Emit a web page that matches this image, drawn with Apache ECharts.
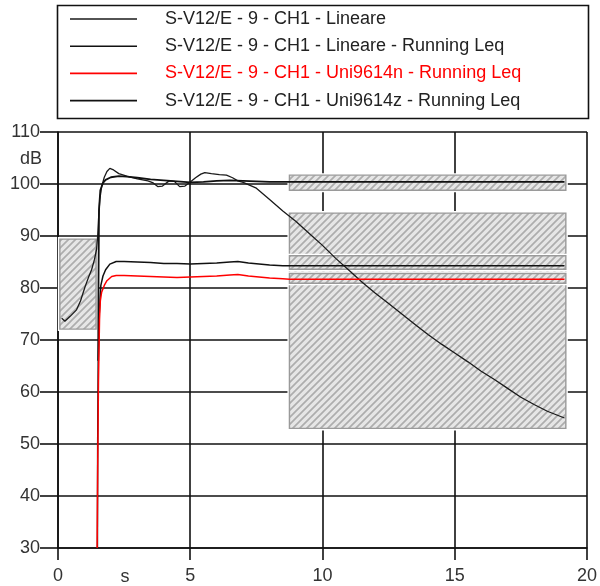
<!DOCTYPE html>
<html>
<head>
<meta charset="utf-8">
<script src="https://cdn.jsdelivr.net/npm/echarts@6/dist/echarts.min.js"></script>
<style>
  html, body { margin: 0; padding: 0; background: #ffffff; }
  #chart { width: 600px; height: 586px; }
</style>
</head>
<body>
<div id="chart"></div>
<script>
// Series names as shown in the legend
const seriesNames = [
  'S-V12/E - 9 - CH1 - Lineare',
  'S-V12/E - 9 - CH1 - Lineare - Running Leq',
  'S-V12/E - 9 - CH1 - Uni9614n - Running Leq',
  'S-V12/E - 9 - CH1 - Uni9614z - Running Leq'
];

// Axis ticks
const xTicks = [0, 5, 10, 15, 20];
const yTicks = [30, 40, 50, 60, 70, 80, 90, 100, 110];

// Lineare (fast level), time in s, level in dB
const linT = [0.14, 0.26, 0.45, 0.7, 0.85, 1.02, 1.15, 1.27, 1.38, 1.46, 1.5, 1.53, 1.58, 1.65, 1.75, 1.85, 1.96, 2.1, 2.3, 2.6,
  3.0, 3.4, 3.6, 3.77, 3.95, 4.2, 4.4, 4.6, 4.8, 5.0, 5.2, 5.4, 5.55, 5.8, 6.1, 6.37, 6.6, 6.8, 7.0, 7.5,
  8.0, 8.5, 9.0, 9.5, 10.0, 10.5, 11.0, 11.5, 12.0, 12.5, 13.0, 13.5, 14.0, 14.5, 15.0, 15.5, 16.0, 16.5,
  17.0, 17.5, 18.0, 18.5, 19.15];
const linV = [74.2, 73.6, 74.5, 75.8, 77.5, 80.2, 82.0, 83.5, 85.5, 87.5, 90.0, 93.0, 97.0, 99.5, 101.3, 102.4, 103.0, 102.7, 102.0, 101.5,
  101.0, 100.6, 100.2, 99.5, 99.6, 100.6, 100.5, 99.5, 99.6, 100.4, 101.2, 101.9, 102.2, 102.0, 101.8, 101.7, 101.2, 100.6, 100.3, 99.2,
  97.0, 94.8, 92.8, 90.5, 88.2, 85.7, 83.4, 81.1, 79.0, 77.0, 75.0, 73.0, 71.0, 69.2, 67.5, 65.8, 64.0, 62.4,
  60.7, 59.0, 57.6, 56.3, 55.0];

// Lineare - Running Leq
const linLeqT = [1.52, 1.53, 1.55, 1.6, 1.7, 1.8, 2.0, 2.3, 2.6, 3.0, 3.5, 4.0, 4.5, 5.0, 5.5, 6.0, 6.5, 7.0, 7.5, 8.0, 8.75, 19.15];
const linLeqV = [66, 80, 95, 98.8, 100.2, 100.8, 101.3, 101.5, 101.4, 101.2, 100.9, 100.7, 100.5, 100.3, 100.4, 100.6, 100.7, 100.6, 100.5, 100.4, 100.4, 100.4];

// Uni9614n - Running Leq
const uniNT = [1.48, 1.5, 1.53, 1.57, 1.6, 1.65, 1.75, 1.85, 2.03, 2.2, 2.5, 3.0, 3.5, 4.0, 4.5, 5.0, 5.5, 6.0, 6.5, 6.8, 7.2, 7.6, 8.0, 8.5, 8.75, 19.15];
const uniNV = [30, 45, 62, 74, 77.5, 79.2, 80.5, 81.4, 82.2, 82.4, 82.4, 82.3, 82.2, 82.1, 82.0, 82.1, 82.2, 82.3, 82.5, 82.6, 82.3, 82.1, 81.9, 81.8, 81.7, 81.7];

// Uni9614z - Running Leq
const uniZT = [1.49, 1.5, 1.52, 1.56, 1.62, 1.7, 1.8, 1.96, 2.2, 2.5, 3.0, 3.5, 4.0, 4.5, 5.0, 5.5, 6.0, 6.5, 6.8, 7.2, 7.6, 8.0, 8.5, 8.75, 19.15];
const uniZV = [30, 50, 66, 75, 80.5, 82.3, 83.5, 84.6, 85.1, 85.1, 85.0, 84.9, 84.7, 84.7, 84.6, 84.7, 84.8, 85.0, 85.1, 84.8, 84.6, 84.4, 84.3, 84.3, 84.3];

// Tolerance boxes: [tStart, tEnd, dBLow, dBHigh]
const toleranceBoxes = [
  [0.07, 1.44, 72.1, 89.4],
  [8.75, 19.2, 98.8, 101.7],
  [8.75, 19.2, 53.0, 94.4],
  [8.75, 19.2, 83.6, 86.2],
  [8.75, 19.2, 80.9, 82.8]
];

const pairs = (t, v) => t.map((x, i) => [x, v[i]]);

// Diagonal hatch tile for the tolerance boxes
function makeHatch() {
  const c = document.createElement('canvas');
  c.width = 7; c.height = 7;
  const g = c.getContext('2d');
  g.fillStyle = '#e6e6e6';
  g.fillRect(0, 0, 7, 7);
  g.strokeStyle = '#adadad';
  g.lineWidth = 1.7;
  g.beginPath();
  g.moveTo(-1, 8); g.lineTo(8, -1);
  g.moveTo(-4, 4); g.lineTo(4, -4);
  g.moveTo(3, 11); g.lineTo(11, 3);
  g.stroke();
  return c;
}
const hatch = { image: makeHatch(), repeat: 'repeat' };

const FONT = "'Liberation Sans', Arial, sans-serif";
const LEGEND_ICON = 'path://M0,0L67,0L67,1.6L0,1.6Z';
const chart = echarts.init(document.getElementById('chart'), null, { renderer: 'canvas' });

const lineSeries = (name, data, color, width, z) => ({
  name, type: 'line', data, symbol: 'none', showSymbol: false, smooth: false, z,
  lineStyle: { color, width }, itemStyle: { color }, emphasis: { disabled: true }
});

chart.setOption({
  animation: false,
  backgroundColor: '#ffffff',
  grid: { left: 58, right: 12, top: 132, bottom: 38 },
  legend: {
    data: [
      { name: seriesNames[0], icon: LEGEND_ICON, textStyle: { color: '#222' } },
      { name: seriesNames[1], icon: LEGEND_ICON, textStyle: { color: '#222' } },
      { name: seriesNames[2], icon: LEGEND_ICON, textStyle: { color: '#ff0000' } },
      { name: seriesNames[3], icon: LEGEND_ICON, textStyle: { color: '#222' } }
    ],
    orient: 'vertical',
    left: 70, top: 10, padding: 0,
    itemWidth: 67, itemHeight: 14, itemGap: 9.2,
    selectedMode: false,
    textStyle: { fontFamily: FONT, fontSize: 18, padding: [0, 0, 0, 23] }
  },
  graphic: [
    { type: 'rect', shape: { x: 57.5, y: 5.5, width: 531, height: 113 },
      style: { fill: 'none', stroke: '#111', lineWidth: 1.6 }, z: 10 },
    { type: 'text', x: 42, y: 159, style: { text: 'dB', font: '18px ' + FONT, fill: '#333', textAlign: 'right', textVerticalAlign: 'middle' } },
    { type: 'text', x: 125, y: 577, style: { text: 's', font: '18px ' + FONT, fill: '#333', textAlign: 'center', textVerticalAlign: 'middle' } }
  ],
  xAxis: {
    type: 'value', min: 0, max: 20, interval: 5,
    axisLine: { show: true, lineStyle: { color: '#111', width: 1.6 } },
    axisTick: { show: true, length: 12, lineStyle: { color: '#111', width: 1.6 } },
    axisLabel: { fontFamily: FONT, fontSize: 18, color: '#333', margin: 19,
      formatter: v => xTicks.includes(v) ? String(v) : '' },
    splitLine: { show: true, lineStyle: { color: '#111', width: 1.6 } }
  },
  yAxis: {
    type: 'value', min: 30, max: 110, interval: 10,
    axisLine: { show: true, lineStyle: { color: '#111', width: 1.6 } },
    axisTick: { show: true, length: 18, lineStyle: { color: '#111', width: 1.6 } },
    axisLabel: { fontFamily: FONT, fontSize: 18, color: '#333', margin: 18,
      formatter: v => yTicks.includes(v) ? String(v) : '' },
    splitLine: { show: true, lineStyle: { color: '#111', width: 1.6 } }
  },
  series: [
    {
      type: 'custom', name: 'tolerance', z: 2, silent: true,
      data: toleranceBoxes,
      encode: { x: [0, 1], y: [2, 3] },
      renderItem(params, api) {
        const a = api.coord([api.value(0), api.value(3)]);
        const b = api.coord([api.value(1), api.value(2)]);
        const x = a[0], y = a[1], w = b[0] - a[0], h = b[1] - a[1];
        return {
          type: 'group',
          children: [
            { type: 'rect', shape: { x: x - 2, y: y - 2, width: w + 4, height: h + 4 }, style: { fill: '#ffffff' } },
            { type: 'rect', shape: { x, y, width: w, height: h }, style: { fill: hatch, stroke: '#9a9a9a', lineWidth: 1.4 } }
          ]
        };
      }
    },
    lineSeries(seriesNames[0], pairs(linT, linV), '#1a1a1a', 1.3, 3),
    lineSeries(seriesNames[1], pairs(linLeqT, linLeqV), '#111111', 1.8, 3),
    lineSeries(seriesNames[2], pairs(uniNT, uniNV), '#ff0000', 1.5, 4),
    lineSeries(seriesNames[3], pairs(uniZT, uniZV), '#111111', 1.5, 3)
  ]
});
</script>
</body>
</html>
